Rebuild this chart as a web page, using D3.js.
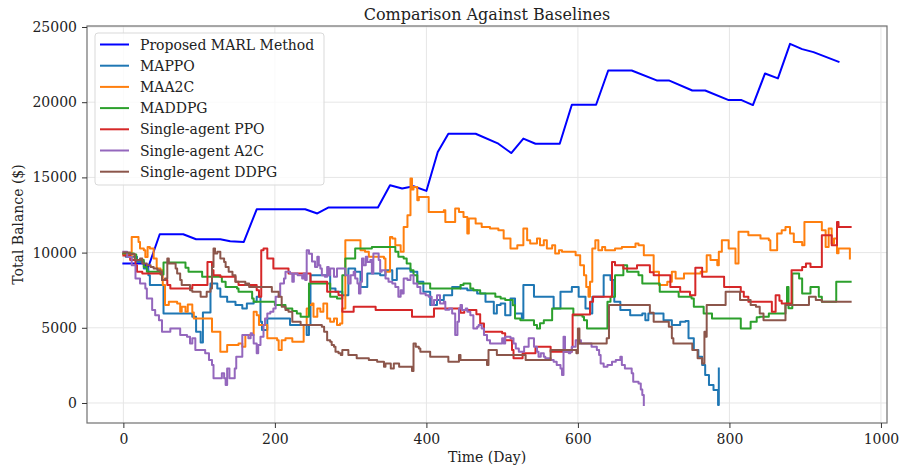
<!DOCTYPE html>
<html>
<head>
<meta charset="utf-8">
<script src="https://cdn.jsdelivr.net/npm/d3@7"></script>
<style>
  body { margin: 0; background: #fff; }
  svg { font-family: "DejaVu Serif", serif; }
</style>
</head>
<body>
<div id="chart"></div>
<script>
var W = 901, H = 470;
var margin = {left: 87, right: 14, top: 26, bottom: 47};

// series names in legend order
var names = ['Proposed MARL Method', 'MAPPO', 'MAA2C', 'MADDPG',
  'Single-agent PPO', 'Single-agent A2C', 'Single-agent DDPG'];
var colors = ['#0000ff', '#1f77b4', '#ff7f0e', '#2ca02c', '#d62728', '#9467bd', '#8c564b'];
var xTicks = [0, 200, 400, 600, 800, 1000];
var yTicks = [0, 5000, 10000, 15000, 20000, 25000];

// [day, balance]
var marl = [[0,9270],[27,9270],[33,9050],[48,11220],[79,11220],[96,10890],[128,10890],[141,10760],[159,10710],[176,12880],[240,12880],[256,12600],[271,13000],[336,13000],[352,14480],[368,14260],[383,14410],[400,14100],[415,16690],[429,17900],[465,17900],[495,17240],[512,16620],[528,17580],[544,17240],[576,17240],[592,19830],[624,19830],[640,22110],[671,22110],[704,21450],[720,21450],[751,20780],[768,20780],[799,20140],[816,20140],[831,19810],[847,21910],[864,21580],[880,23880],[896,23530],[911,23330],[944,22690]];

var mappo = [[0,9900],[3,9720],[18,9380],[27,8940],[33,8500],[35,7840],[49,7840],[53,5950],[84,5950],[91,5730],[96,4740],[102,4030],[104,4030],[105,6020],[113,6020],[115,7950],[124,7610],[128,7060],[137,6730],[148,6510],[157,6290],[163,6620],[172,6730],[176,7060],[181,5400],[183,4850],[190,5620],[207,5620],[220,5180],[238,5180],[242,4520],[245,5180],[247,8500],[260,8500],[273,7610],[280,7390],[289,7170],[297,8940],[306,8720],[313,7720],[322,8610],[339,8500],[346,8830],[355,8170],[361,8940],[379,8720],[388,8060],[396,7390],[405,6510],[414,6840],[423,7170],[434,7720],[445,7610],[454,7500],[467,7280],[478,6730],[489,5950],[493,6510],[498,6620],[504,5840],[511,6950],[517,5950],[526,5620],[528,7840],[542,7060],[564,7060],[568,6290],[575,6290],[577,7390],[592,7720],[601,7060],[610,6290],[616,5950],[619,7060],[630,7060],[634,8500],[643,8170],[648,6730],[656,6180],[669,5840],[685,5950],[689,5510],[693,5950],[705,5950],[713,5510],[724,5180],[735,5400],[742,5450],[746,4300],[753,3520],[759,3080],[764,2520],[768,1860],[773,1200],[779,860],[785,-130],[786,2300]];

var maa2c = [[0,9900],[9,9600],[11,11040],[17,11040],[20,10710],[22,10270],[27,10160],[29,9710],[32,10380],[35,10270],[40,9600],[44,8940],[49,8830],[52,7840],[55,6510],[60,6730],[71,6620],[75,6060],[77,6400],[82,6060],[85,6550],[91,6020],[93,5620],[115,5620],[117,4740],[124,4740],[128,3410],[135,3410],[137,3850],[152,3960],[157,3740],[161,4520],[170,4520],[172,6060],[176,5840],[179,5180],[185,5180],[190,4300],[203,4180],[205,3520],[209,4180],[214,4300],[223,4080],[236,4080],[238,5180],[242,6290],[245,6510],[249,6620],[251,5730],[256,6290],[260,6060],[264,6620],[269,5620],[273,5400],[278,5620],[282,5180],[286,5290],[289,6290],[293,10820],[308,10820],[313,10160],[319,10050],[324,9720],[344,9610],[346,8720],[349,8720],[352,11040],[355,10940],[359,10490],[366,10050],[370,11710],[375,12480],[379,14920],[381,14200],[383,14360],[388,13480],[390,13700],[399,13700],[403,12700],[414,12700],[423,12810],[425,12040],[436,12040],[438,12930],[443,12700],[449,12370],[454,11270],[456,12260],[462,12260],[465,11930],[473,11710],[484,11600],[495,11490],[502,10940],[511,10270],[520,10490],[526,10490],[528,11600],[533,10820],[537,10600],[546,10940],[550,10490],[555,10820],[559,10270],[566,10490],[570,9940],[575,10160],[579,10050],[597,9830],[603,9160],[608,8500],[611,7720],[614,7060],[616,8060],[619,10270],[623,10820],[627,10160],[632,10380],[636,10160],[649,10270],[658,10380],[665,10380],[676,10600],[680,10490],[687,9830],[700,8720],[707,7840],[718,8060],[724,8720],[729,8280],[740,8610],[762,8720],[770,9830],[775,9500],[784,9160],[786,10050],[790,10820],[797,10820],[799,10270],[808,9270],[810,9270],[812,11380],[825,11150],[841,10930],[852,10820],[854,10160],[860,10160],[863,11270],[869,11490],[874,11710],[880,11270],[885,10710],[896,10490],[899,12040],[918,12040],[922,11490],[927,10380],[931,11600],[935,10600],[938,10940],[942,9960],[944,10270],[955,10270],[959,9610]];

var maddpg = [[0,9940],[14,9870],[17,9500],[27,9050],[31,8720],[49,8550],[53,9340],[77,9340],[82,8990],[86,8720],[102,8720],[104,8390],[126,8390],[130,8060],[135,7720],[150,7610],[152,7390],[168,7390],[170,6950],[172,6730],[192,6730],[200,6510],[212,6510],[214,6290],[223,6110],[229,5950],[234,5730],[244,5730],[245,7950],[267,7950],[273,7060],[282,6950],[289,8500],[293,9610],[304,9610],[306,10270],[326,10270],[328,10380],[350,10380],[359,10050],[363,9720],[370,9610],[374,9270],[379,8830],[383,8500],[388,7950],[403,7950],[405,7610],[440,7610],[445,7840],[449,7950],[455,7950],[458,7610],[462,7500],[471,7280],[487,7280],[491,7060],[498,6950],[504,6840],[511,6840],[514,6500],[517,5620],[524,5510],[538,5510],[542,5180],[546,4960],[550,5300],[555,5510],[564,5510],[566,6290],[592,6290],[594,5840],[606,5730],[608,5510],[612,4960],[634,4960],[639,6730],[643,7060],[649,8500],[658,8500],[660,9160],[665,8720],[680,8500],[685,7950],[702,7950],[708,7390],[730,7390],[733,7060],[750,6950],[753,6400],[762,6400],[766,5950],[774,5950],[777,5620],[810,5620],[815,4960],[818,4960],[828,5400],[836,5700],[840,5730],[852,5950],[872,5950],[874,6600],[876,7720],[878,6300],[881,6300],[883,8610],[890,8610],[892,8280],[896,7280],[905,7280],[907,7720],[916,7720],[918,7060],[922,6730],[940,6730],[941,8060],[960,8060]];

var ppo = [[0,9800],[9,9500],[16,9160],[18,8720],[25,8610],[49,8610],[51,8170],[58,7840],[62,7610],[88,7610],[91,7840],[110,7840],[111,9380],[115,9380],[117,8830],[119,8500],[128,8390],[146,8390],[148,8060],[152,7840],[172,7840],[176,7500],[179,7060],[182,10160],[185,10270],[190,9610],[198,8940],[215,8940],[218,8610],[245,8610],[247,8060],[267,8060],[269,7390],[282,7390],[284,7170],[287,7170],[289,6060],[302,6060],[304,6400],[317,6400],[333,6180],[379,6180],[381,5730],[407,5730],[410,6290],[440,6290],[445,6000],[450,6180],[462,6180],[466,5900],[471,5290],[476,4740],[498,4740],[500,4630],[504,4180],[513,3520],[515,2970],[522,2970],[527,3300],[542,3300],[544,3740],[561,3740],[564,3410],[590,3410],[592,3740],[593,5890],[610,5890],[616,6730],[620,7060],[634,7060],[645,9380],[649,9160],[658,9160],[660,8940],[676,8940],[678,9160],[690,9160],[695,8700],[700,8500],[718,8500],[722,7720],[733,7720],[735,7390],[748,7170],[753,7170],[755,8990],[762,8990],[764,8390],[790,8390],[793,7720],[810,7720],[815,7390],[819,7060],[825,6730],[854,6730],[856,6060],[861,7170],[866,6800],[869,6620],[880,6620],[882,8830],[896,9050],[901,9270],[907,9050],[920,9050],[922,11150],[931,11150],[935,10490],[940,10490],[942,12040],[944,11710],[960,11710]];

var a2c = [[0,10050],[5,9700],[11,9160],[16,8280],[22,7950],[29,7610],[31,6950],[38,6180],[42,5840],[47,5500],[51,4740],[60,4740],[62,4960],[71,4960],[75,4520],[84,4400],[88,3960],[91,4300],[95,3520],[108,3300],[113,2860],[117,2520],[119,1640],[126,1640],[130,1970],[133,1640],[135,1200],[137,2300],[140,1640],[145,1640],[147,2300],[149,3080],[154,3080],[157,4520],[163,4520],[165,4300],[168,4630],[170,4520],[172,3960],[176,3300],[178,3850],[181,4400],[185,5180],[187,5620],[190,5950],[194,6060],[198,6290],[201,7060],[205,7170],[207,7950],[212,8280],[214,8720],[220,8610],[223,8060],[225,8610],[230,8500],[236,8280],[238,8610],[240,8170],[242,10160],[245,9930],[249,9400],[253,9050],[256,9720],[258,9160],[260,8940],[262,8500],[266,8390],[269,9050],[271,8500],[273,8940],[278,8390],[282,8940],[289,8940],[293,8500],[297,7950],[300,8500],[304,8720],[306,8280],[309,7950],[311,7280],[313,8060],[315,9610],[317,9160],[320,9720],[322,9380],[326,9500],[328,8610],[330,9940],[335,9940],[337,9500],[339,8720],[341,8830],[346,8280],[350,8060],[355,7950],[359,7720],[363,7060],[366,7500],[368,7280],[370,8280],[375,8170],[379,8500],[383,7950],[388,7720],[392,7280],[399,7170],[403,7060],[407,6510],[410,6840],[414,7170],[418,6620],[423,6730],[425,6200],[430,6290],[434,5950],[436,5950],[438,4520],[441,5400],[443,6290],[445,6510],[447,6180],[452,6290],[454,6060],[458,5840],[462,4960],[467,5070],[469,5180],[473,4960],[476,4520],[480,4180],[484,3960],[498,3960],[500,4300],[502,3960],[504,4400],[509,4400],[511,4300],[515,3960],[518,3630],[522,3410],[527,3410],[529,3740],[535,4300],[540,4300],[542,3740],[546,3410],[548,3080],[551,3300],[555,3080],[557,2970],[564,2860],[568,2740],[572,2520],[577,2300],[579,1860],[581,4400],[583,3410],[588,3300],[590,3410],[592,3740],[595,3740],[597,4180],[600,3960],[602,4180],[604,3960],[611,3960],[618,3740],[625,3520],[628,3190],[630,2630],[634,2410],[639,2520],[645,2740],[650,2860],[656,3080],[658,2520],[662,2300],[667,2300],[671,1970],[673,1410],[680,1300],[683,900],[685,530],[687,-130]];

var ddpg = [[0,10000],[9,9900],[13,9900],[15,9500],[18,9500],[22,9600],[25,9270],[31,9160],[36,9050],[40,8940],[45,8830],[49,8720],[51,8170],[55,8280],[58,9610],[60,9270],[66,9270],[69,8940],[71,8610],[75,8170],[77,7840],[84,7840],[88,7500],[91,7390],[100,7390],[102,7060],[106,7060],[110,7390],[115,7610],[117,9050],[119,10270],[121,9940],[124,10050],[128,9610],[133,9380],[135,9050],[139,8720],[144,8500],[148,8060],[157,8060],[161,7840],[163,7950],[166,7720],[194,7720],[196,7390],[203,7390],[205,7060],[209,6400],[214,6180],[218,6060],[223,5400],[231,5400],[234,5180],[258,5180],[262,5070],[265,4740],[269,4180],[273,4080],[275,3850],[278,3740],[280,3410],[284,3300],[287,3190],[289,3520],[295,3520],[297,3190],[306,3190],[308,2970],[322,2970],[324,2860],[330,2860],[335,2750],[342,2750],[344,2410],[346,2630],[350,2630],[353,2300],[357,2630],[361,2630],[364,2410],[379,2410],[381,2120],[383,3960],[386,3740],[390,3630],[392,3410],[403,3410],[405,3080],[427,3080],[429,2740],[441,2740],[443,3190],[445,2860],[478,2860],[480,2520],[482,3520],[488,3520],[493,3190],[529,3190],[531,2860],[561,2860],[564,3520],[594,3520],[598,3300],[600,4960],[602,3960],[636,3960],[638,4300],[641,6510],[691,6510],[695,6000],[700,5400],[718,5400],[720,5070],[724,4300],[726,3960],[748,3960],[751,3520],[758,2970],[764,2630],[766,2630],[767,4740],[769,4400],[770,6510],[793,6510],[795,7390],[812,7390],[814,6840],[825,6840],[828,6510],[835,6400],[840,5950],[845,5510],[871,5510],[874,6510],[903,6510],[905,7060],[912,7060],[914,6840],[922,6730],[960,6730]];

var series = [marl, mappo, maa2c, maddpg, ppo, a2c, ddpg];

var svg = d3.select('#chart').append('svg')
  .attr('width', W)
  .attr('height', H);

var x = d3.scaleLinear()
  .domain([-48, 1008])
  .range([margin.left, W - margin.right]);
var y = d3.scaleLinear()
  .domain([-1330, 25066])
  .range([H - margin.bottom, margin.top]);

// grid
svg.append('g').selectAll('line').data(xTicks).enter().append('line')
  .attr('x1', function(d) { return x(d); }).attr('x2', function(d) { return x(d); })
  .attr('y1', margin.top).attr('y2', H - margin.bottom)
  .attr('stroke', '#e6e6e6').attr('stroke-width', 1);
svg.append('g').selectAll('line').data(yTicks).enter().append('line')
  .attr('y1', function(d) { return y(d); }).attr('y2', function(d) { return y(d); })
  .attr('x1', margin.left).attr('x2', W - margin.right)
  .attr('stroke', '#e6e6e6').attr('stroke-width', 1);

// lines: the proposed method is sampled coarsely, baselines change in daily steps
var line = d3.line()
  .x(function(d) { return x(d[0]); })
  .y(function(d) { return y(d[1]); });
var stepLine = d3.line()
  .curve(d3.curveStepAfter)
  .x(function(d) { return x(d[0]); })
  .y(function(d) { return y(d[1]); });

svg.append('g').selectAll('path').data(series).enter().append('path')
  .attr('d', function(d, i) { return i == 0 ? line(d) : stepLine(d); })
  .attr('fill', 'none')
  .attr('stroke', function(d, i) { return colors[i]; })
  .attr('stroke-width', 2)
  .attr('stroke-linejoin', 'round')
  .attr('stroke-linecap', 'square');

// frame
svg.append('rect')
  .attr('x', margin.left).attr('y', margin.top)
  .attr('width', W - margin.left - margin.right)
  .attr('height', H - margin.top - margin.bottom)
  .attr('fill', 'none').attr('stroke', '#707070').attr('stroke-width', 1.2);

// axes
var xAxis = svg.append('g')
  .attr('transform', 'translate(0,' + (H - margin.bottom) + ')')
  .call(d3.axisBottom(x).tickValues(xTicks).tickSize(5).tickPadding(6).tickFormat(d3.format('d')));
var yAxis = svg.append('g')
  .attr('transform', 'translate(' + margin.left + ',0)')
  .call(d3.axisLeft(y).tickValues(yTicks).tickSize(5).tickPadding(5).tickFormat(d3.format('d')));
[xAxis, yAxis].forEach(function(a) {
  a.select('.domain').remove();
  a.selectAll('.tick line').attr('stroke', '#333');
  a.selectAll('text').attr('font-family', 'DejaVu Serif').attr('font-size', 14).attr('fill', '#222');
});

// title and labels
svg.append('text')
  .attr('x', (margin.left + W - margin.right) / 2).attr('y', 20)
  .attr('text-anchor', 'middle').attr('font-size', 16).attr('fill', '#222')
  .text('Comparison Against Baselines');
svg.append('text')
  .attr('x', (margin.left + W - margin.right) / 2).attr('y', 462)
  .attr('text-anchor', 'middle').attr('font-size', 14).attr('fill', '#222')
  .text('Time (Day)');
svg.append('text')
  .attr('transform', 'translate(23,' + ((margin.top + H - margin.bottom) / 2) + ') rotate(-90)')
  .attr('text-anchor', 'middle').attr('font-size', 14).attr('fill', '#222')
  .text('Total Balance ($)');

// legend
var lg = svg.append('g').attr('transform', 'translate(95,33)');
lg.append('rect')
  .attr('width', 229).attr('height', 152).attr('rx', 3)
  .attr('fill', 'rgba(255,255,255,0.8)').attr('stroke', '#d9d9d9');
var items = lg.selectAll('g.item').data(names).enter().append('g')
  .attr('transform', function(d, i) { return 'translate(0,' + (11.5 + i * 21.2) + ')'; });
items.append('line')
  .attr('x1', 5).attr('x2', 34)
  .attr('stroke', function(d, i) { return colors[i]; })
  .attr('stroke-width', 2);
items.append('text')
  .attr('x', 45).attr('y', 5)
  .attr('font-size', 14).attr('fill', '#222')
  .text(function(d) { return d; });
</script>
</body>
</html>
